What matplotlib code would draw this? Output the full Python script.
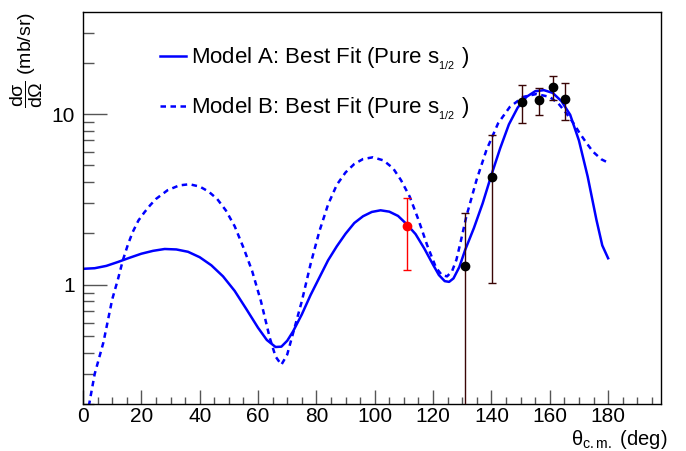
import numpy as np
import matplotlib
matplotlib.use('Agg')
import matplotlib.pyplot as plt
from matplotlib.ticker import LogLocator, FixedLocator, NullFormatter, FuncFormatter

plt.rcParams['font.family'] = ['Liberation Sans', 'DejaVu Sans']
plt.rcParams['mathtext.fontset'] = 'custom'
plt.rcParams['mathtext.rm'] = 'Liberation Sans'
plt.rcParams['mathtext.it'] = 'Liberation Sans:italic'
plt.rcParams['mathtext.sf'] = 'Liberation Sans'

# Model A: best fit (solid)
theta_a = [0, 4, 8, 12, 16, 20, 24, 28, 32, 36, 40, 44, 48, 52, 56, 60, 63, 66, 68,
           70, 72, 75, 78, 81, 84, 87, 90, 93, 96, 99, 102, 105, 108, 111, 114, 117,
           120, 122, 124, 125.5, 127, 129, 131, 134, 137, 140, 143, 146, 149, 152,
           155, 158, 161, 164, 167, 170, 173, 176, 178, 180]
xs_a = [1.24, 1.25, 1.29, 1.36, 1.44, 1.52, 1.58, 1.62, 1.61, 1.56, 1.45, 1.30, 1.12,
        0.92, 0.72, 0.56, 0.475, 0.432, 0.434, 0.47, 0.533, 0.67, 0.87, 1.10, 1.39,
        1.68, 1.99, 2.30, 2.52, 2.67, 2.73, 2.68, 2.53, 2.26, 1.98, 1.63, 1.31, 1.14,
        1.05, 1.04, 1.09, 1.27, 1.60, 2.15, 3.0, 4.4, 6.3, 8.7, 10.9, 12.6, 13.6, 13.8,
        13.3, 11.9, 9.9, 7.0, 4.3, 2.4, 1.7, 1.43]

# Model B: best fit (dashed)
theta_b = [2, 4, 7, 10, 12, 13.7, 15.4, 17, 19, 21, 23, 25, 29, 33, 36.5, 40, 43, 46,
           49, 52, 55, 58, 61, 64, 66, 68, 70, 72, 75, 78, 81, 84, 87, 90, 93, 96, 99.4,
           103, 106.3, 109, 112, 115, 118, 121, 123, 124.8, 126.5, 128, 129.5, 131.4,
           134.9, 138.3, 142.3, 146.3, 150.9, 155.4, 160, 163, 165.7, 168, 170.3, 172.5,
           174.8, 177.7, 180]
xs_b = [0.195, 0.30, 0.46, 0.82, 1.08, 1.40, 1.72, 2.03, 2.38, 2.65, 2.92, 3.18, 3.58,
        3.82, 3.88, 3.76, 3.52, 3.18, 2.72, 2.2, 1.65, 1.2, 0.80, 0.49, 0.38, 0.34,
        0.39, 0.52, 0.80, 1.32, 2.05, 2.95, 3.85, 4.55, 5.1, 5.45, 5.58, 5.35, 4.81,
        4.1, 3.28, 2.4, 1.70, 1.26, 1.14, 1.12, 1.20, 1.40, 1.80, 2.51, 4.11, 6.16,
        8.83, 11.0, 12.6, 13.1, 12.6, 11.5, 10.1, 8.9, 7.71, 6.8, 6.02, 5.43, 5.19]

# measured points
theta_red = [110.9]
xs_red = [2.21]
lo_red = [1.22]
hi_red = [3.21]

theta_dat = [130.9, 140.2, 150.6, 156.3, 161.1, 165.2]
xs_dat = [1.28, 4.30, 11.8, 12.1, 14.4, 12.2]
lo_dat = [0.001, 1.02, 8.83, 9.87, 12.1, 9.2]
hi_dat = [2.65, 7.54, 14.8, 14.3, 16.7, 15.1]

fig = plt.figure(figsize=(6.86, 4.51), dpi=100)
ax = fig.add_axes([0.121, 0.104, 0.842, 0.869])

ax.plot(theta_a, xs_a, color='#0000ff', lw=1.8, label=r'Model A: Best Fit (Pure s$_{_{1/2}}$ )')
ax.plot(theta_b, xs_b, color='#0000ff', lw=1.8, dashes=(2.2, 1.8),
        label=r'Model B: Best Fit (Pure s$_{_{1/2}}$ )')

xs_red = np.array(xs_red)
ax.errorbar(theta_red, xs_red, yerr=[xs_red - np.array(lo_red), np.array(hi_red) - xs_red],
            fmt='o', color='#ff0000', ms=6, elinewidth=1, capsize=3, capthick=1, zorder=5)
xs_dat = np.array(xs_dat)
ax.errorbar(theta_dat, xs_dat, yerr=[xs_dat - np.array(lo_dat), np.array(hi_dat) - xs_dat],
            fmt='o', color='black', ecolor='#3a0505', ms=6, elinewidth=1, capsize=3,
            capthick=1, zorder=5)

ax.set_yscale('log')
ax.set_xlim(0, 198)
ax.set_ylim(0.2, 39.5)

ax.xaxis.set_major_locator(FixedLocator(np.arange(0, 181, 20)))
ax.xaxis.set_minor_locator(FixedLocator(np.arange(0, 198, 5)))
ax.yaxis.set_major_locator(FixedLocator([1, 10]))
ax.yaxis.set_major_formatter(FuncFormatter(lambda v, p: '%g' % v))
ax.yaxis.set_minor_locator(LogLocator(base=10, subs=np.arange(2, 10)))
ax.yaxis.set_minor_formatter(NullFormatter())

ax.tick_params(which='both', direction='in', top=False, right=False, labelsize=15, width=1,
               color='#555555')
ax.tick_params(axis='x', which='major', length=10, pad=2)
ax.tick_params(axis='x', which='minor', length=5)
ax.tick_params(axis='y', which='major', length=17, pad=6)
ax.tick_params(axis='y', which='minor', length=8)
for s in ax.spines.values():
    s.set_linewidth(1)

ax.set_xlabel(r'θ$_{\mathrm{c.m.}}$ (deg)', fontsize=14.5, ha='right')
ax.xaxis.set_label_coords(1.012, -0.062)
ax.xaxis.label.set_va('top')
ax.set_ylabel(r'$\dfrac{\mathrm{d\sigma}}{\mathrm{d\Omega}}$ (mb/sr)', fontsize=14, ha='right')
ax.yaxis.set_label_coords(-0.066, 1.0)

ax.legend(loc='upper left', bbox_to_anchor=(0.133, 0.915), frameon=False, fontsize=16,
          handlelength=1.2, handletextpad=0.2, labelspacing=1.1, borderpad=0,
          borderaxespad=0)

fig.savefig('out.png', dpi=100)
